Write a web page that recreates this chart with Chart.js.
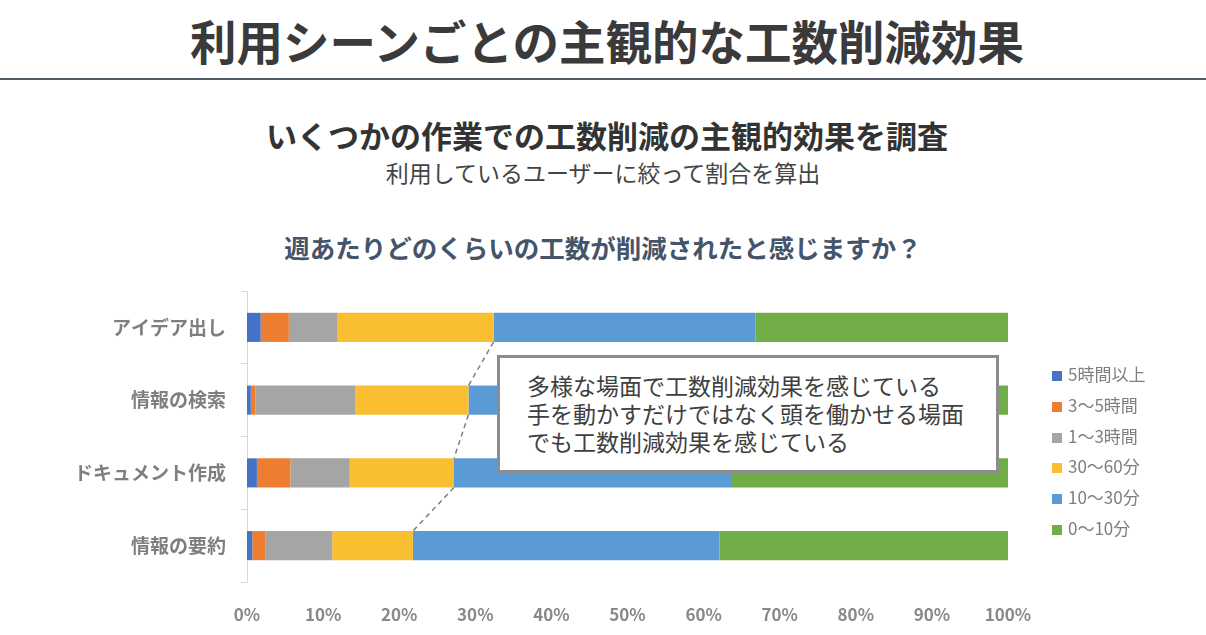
<!DOCTYPE html>
<html lang="ja">
<head>
<meta charset="utf-8">
<title>利用シーンごとの主観的な工数削減効果</title>
<script src="https://cdn.jsdelivr.net/npm/chart.js@4"></script>
<style>
  html, body { margin: 0; padding: 0; background: #fff; overflow: hidden; }
  body { width: 1206px; height: 635px; position: relative; font-family: 'Noto Sans CJK JP', 'Noto Sans', sans-serif; }
  .txt { position: absolute; left: 0; width: 1206px; text-align: center; white-space: nowrap; }
  #titulo { top: 12px; left: 4px; font-size: 46.5px; font-weight: 700; color: #3a3a3a; line-height: 56px; }
  #linha { position: absolute; left: 0; top: 78px; width: 1206px; height: 2px; background: #4f5b66; }
  #sub1 { top: 115px; left: 4px; font-size: 31px; font-weight: 700; color: #333; line-height: 40px; }
  #sub2 { top: 157px; font-size: 23px; font-weight: 400; color: #444; line-height: 30px; }
  #pergunta { top: 230px; font-size: 25.5px; font-weight: 700; color: #44546a; line-height: 34px; }
  #grafico { position: absolute; left: 0; top: 0; width: 1206px; height: 635px; }
  #legenda { position: absolute; left: 1052px; top: 359px; font-size: 17px; color: #7f7f7f; }
  #legenda div { height: 30.8px; line-height: 30.8px; white-space: nowrap; }
  #legenda span { display: inline-block; width: 10px; height: 10px; margin-right: 6px; vertical-align: 0px; }
  #caixa { position: absolute; left: 497px; top: 355px; width: 469px; height: 99px; border: 3px solid #8c8c8c;
           background: #fff; padding: 13px 0 0 27px; box-sizing: content-box; font-size: 23px; line-height: 28px; color: #404040; white-space: nowrap; }
</style>
</head>
<body>
<div id="titulo" class="txt">利用シーンごとの主観的な工数削減効果</div>
<div id="linha"></div>
<div id="sub1" class="txt">いくつかの作業での工数削減の主観的効果を調査</div>
<div id="sub2" class="txt">利用しているユーザーに絞って割合を算出</div>
<div id="pergunta" class="txt">週あたりどのくらいの工数が削減されたと感じますか？</div>
<div id="grafico"><canvas id="canvasGrafico"></canvas></div>
<div id="legenda"></div>
<div id="caixa">多様な場面で工数削減効果を感じている<br>手を動かすだけではなく頭を働かせる場面<br>でも工数削減効果を感じている</div>

<script>
// 利用シーン（カテゴリ）
const categorias = ["アイデア出し", "情報の検索", "ドキュメント作成", "情報の要約"];

// 削減時間ごとの割合（%）
const serie5hMais  = [1.8, 0.5, 1.3, 0.7];
const serie3a5h    = [3.7, 0.6, 4.4, 1.7];
const serie1a3h    = [6.4, 13.1, 7.8, 8.8];
const serie30a60m  = [20.5, 14.9, 13.7, 10.6];
const serie10a30m  = [34.4, 35.0, 36.4, 40.3];
const serie0a10m   = [33.2, 35.9, 36.4, 37.9];

const rotulosSerie = ["5時間以上", "3〜5時間", "1〜3時間", "30〜60分", "10〜30分", "0〜10分"];
const coresSerie   = ["#4472c4", "#ed7d31", "#a5a5a5", "#f9bf30", "#5b9bd5", "#70ad47"];

const marcasEixoX = [0, 10, 20, 30, 40, 50, 60, 70, 80, 90, 100];

Chart.defaults.font.family = "'Noto Sans CJK JP', 'Noto Sans', sans-serif";

document.addEventListener("DOMContentLoaded", () => {
  const valores = [serie5hMais, serie3a5h, serie1a3h, serie30a60m, serie10a30m, serie0a10m];

  // 凡例（HTML）
  const legenda = document.getElementById("legenda");
  rotulosSerie.forEach((r, i) => {
    const item = document.createElement("div");
    item.innerHTML = `<span style="background:${coresSerie[i]}"></span>${r}`;
    legenda.appendChild(item);
  });

  // 30〜60分の右端を点線でつなぐ（区分線）
  const linhasSerie = {
    id: "linhasSerie",
    afterDatasetsDraw(chart) {
      const ctx = chart.ctx;
      const metaAmarelo = chart.getDatasetMeta(3);
      const x = chart.scales.x;
      const acumulado = categorias.map((_, i) => valores.slice(0, 4).reduce((s, arr) => s + arr[i], 0));
      ctx.save();
      ctx.strokeStyle = "#7f7f7f";
      ctx.lineWidth = 1.5;
      ctx.setLineDash([5, 4]);
      for (let i = 0; i < categorias.length - 1; i++) {
        const b1 = metaAmarelo.data[i];
        const b2 = metaAmarelo.data[i + 1];
        ctx.beginPath();
        ctx.moveTo(x.getPixelForValue(acumulado[i]), b1.y + b1.height / 2);
        ctx.lineTo(x.getPixelForValue(acumulado[i + 1]), b2.y - b2.height / 2);
        ctx.stroke();
      }
      ctx.restore();
    }
  };

  new Chart(document.getElementById("canvasGrafico"), {
    type: "bar",
    data: {
      labels: categorias,
      datasets: valores.map((v, i) => ({
        label: rotulosSerie[i],
        data: v,
        backgroundColor: coresSerie[i],
        borderWidth: 0,
        barPercentage: 0.4,
        categoryPercentage: 1
      }))
    },
    options: {
      indexAxis: "y",
      responsive: true,
      maintainAspectRatio: false,
      animation: false,
      layout: { padding: { left: 0, top: 291, right: 198, bottom: 13 } },
      plugins: {
        legend: { display: false },
        tooltip: { enabled: false }
      },
      scales: {
        x: {
          stacked: true,
          min: 0,
          max: 100,
          afterFit: s => { s.height = 40; },
          afterBuildTicks: s => { s.ticks = marcasEixoX.map(v => ({ value: v })); },
          grid: { display: false },
          border: { display: false },
          ticks: {
            padding: 14,
            color: "#898989",
            font: { size: 17, weight: "bold" },
            callback: v => v + "%"
          }
        },
        y: {
          stacked: true,
          afterFit: s => { s.width = 247; },
          grid: { offset: true, drawOnChartArea: false, drawTicks: true, tickLength: 6, color: "#d9d9d9" },
          border: { display: true, color: "#d9d9d9" },
          ticks: {
            padding: 15,
            color: "#7f7f7f",
            font: { size: 19, weight: "bold" }
          }
        }
      }
    },
    plugins: [linhasSerie]
  });
});
</script>
</body>
</html>
